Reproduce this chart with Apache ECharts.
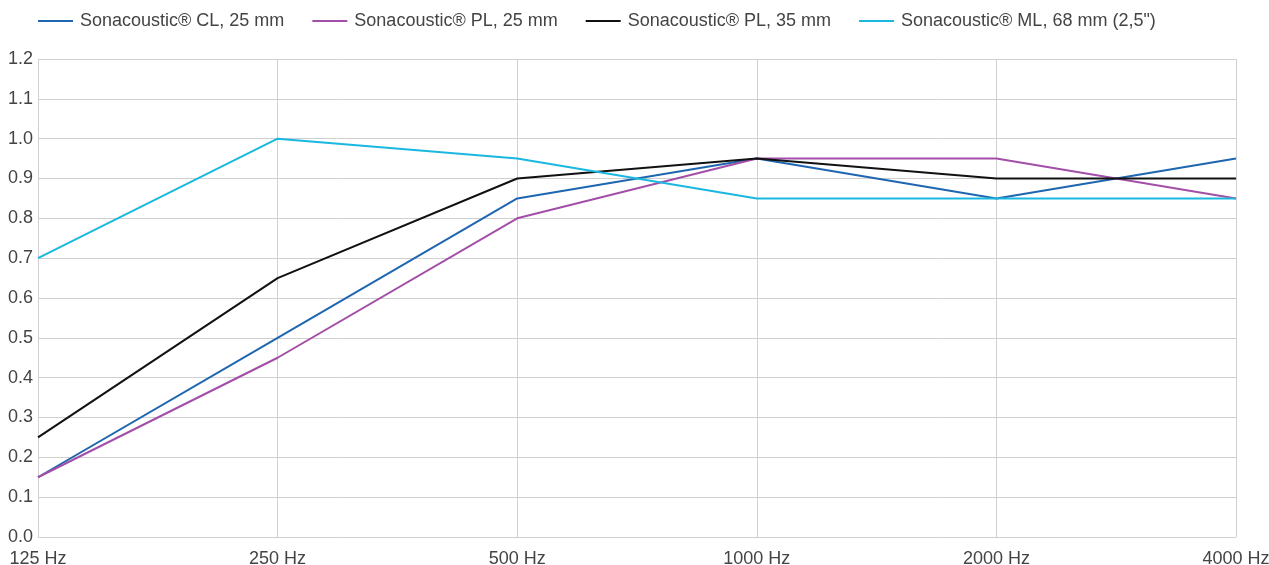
<!DOCTYPE html>
<html><head><meta charset="utf-8">
<script src="https://cdn.jsdelivr.net/npm/echarts@6/dist/echarts.min.js"></script>
<style>html,body{margin:0;padding:0;background:#fff}#c{width:1269px;height:565px}</style>
</head><body><div id="c"></div>
<script>
var categories = ['125 Hz','250 Hz','500 Hz','1000 Hz','2000 Hz','4000 Hz'];
var seriesNames = ['Sonacoustic® CL, 25 mm','Sonacoustic® PL, 25 mm','Sonacoustic® PL, 35 mm','Sonacoustic® ML, 68 mm (2,5")'];
var cl25 = [0.15, 0.5, 0.85, 0.95, 0.85, 0.95];
var pl25 = [0.15, 0.45, 0.8, 0.95, 0.95, 0.85];
var pl35 = [0.25, 0.65, 0.9, 0.95, 0.9, 0.9];
var ml68 = [0.7, 1.0, 0.95, 0.85, 0.85, 0.85];
var colors = ['#1f66b0','#a34ea8','#111111','#1ab8e0'];
var values = [cl25, pl25, pl35, ml68];
var font = '"Liberation Sans", Arial, sans-serif';
var chart = echarts.init(document.getElementById('c'));
chart.setOption({
  animation:false,
  color: colors,
  legend:{left:38, top:12, padding:0, itemWidth:35, itemHeight:2, itemGap:28, icon:'rect',
    textStyle:{fontFamily:font, fontSize:18, color:'#444', padding:[0,0,0,2]},
    data: seriesNames},
  grid:{left:38, right:33, top:59, bottom:28, containLabel:false, outerBoundsMode:'none'},
  xAxis:{type:'category', data:categories, boundaryGap:false,
    axisLine:{show:false}, axisTick:{show:false},
    splitLine:{show:true, lineStyle:{color:'#d0d0d0'}},
    axisLabel:{fontFamily:font, fontSize:18, color:'#444', margin:13}},
  yAxis:{type:'value', min:0, max:1.2, interval:0.1,
    axisLine:{show:false}, axisTick:{show:false},
    splitLine:{lineStyle:{color:'#d0d0d0'}},
    axisLabel:{fontFamily:font, fontSize:18, color:'#444', margin:5,
      formatter:function(v){return v.toFixed(1);}}},
  series: values.map(function(v,i){return {name:seriesNames[i], type:'line', data:v,
    symbol:'none', lineStyle:{width:2, color:colors[i]}, itemStyle:{color:colors[i]}};})
});
</script></body></html>
